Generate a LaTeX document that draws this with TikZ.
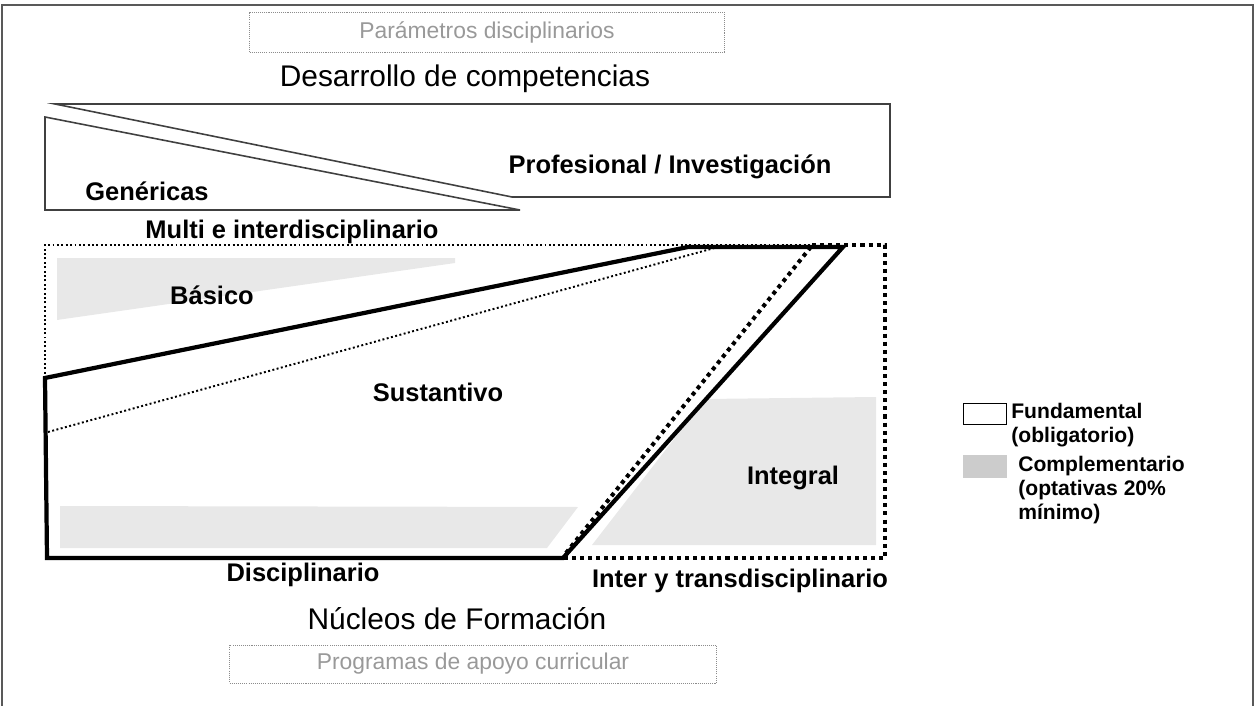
\documentclass[tikz,border=0pt]{standalone}
\usepackage{fontspec}
\setmainfont{Liberation Sans}
\usetikzlibrary{positioning}

\begin{document}
\begin{tikzpicture}[x=0.02cm, y=-0.02cm,
            every node/.style={inner sep=0pt},
            frame/.style={draw=black!65, line width=1.1pt},
            band/.style={draw=black!75, line width=0.9pt},
            fund/.style={draw=black, line width=2.4pt, line join=miter},
            finedots/.style={draw=black, line width=1.1pt, dash pattern=on 1.1pt off 1.4pt},
            heavydots/.style={draw=black, line width=2.3pt, dash pattern=on 2.3pt off 2.3pt},
            compl/.style={fill=black!9, draw=none},
            greybox/.style={draw=black!45, line width=0.5pt, dash pattern=on 0.6pt off 0.6pt,
                text=black!40, font=\fontsize{13}{15}\selectfont},
            title/.style={font=\fontsize{17}{20}\selectfont},
            lbl/.style={font=\bfseries\fontsize{14.5}{17}\selectfont},
            leg/.style={font=\bfseries\fontsize{12}{13.6}\selectfont, align=left, anchor=west}]
            \useasboundingbox (0,0) rectangle (1255,706);
            \draw[frame] (2,706) -- (2,5) -- (1253,5) -- (1253,706);
            % top: competencias
            \node[greybox, minimum width=9.5cm, minimum height=0.8cm] (param) at (487,32) {Parámetros disciplinarios};
            \node[title] (desarr) at (465,79) {Desarrollo de competencias};
            \draw[band] (55,104) -- (890,104) -- (890,197) -- (512,197) -- cycle;
            \draw[band] (45,117) -- (520,210) -- (45,210) -- cycle;
            \node[lbl] (prof) at (670,167) {Profesional / Investigación};
            \node[lbl] (gen) at (147,191) {Genéricas};
            \node[lbl] (multi) at (292,232) {Multi e interdisciplinario};
            % complementary areas
            \fill[compl] (57,258) -- (455,258) -- (455,263) -- (57,320) -- cycle;
            \fill[compl] (60,506) -- (578,507) -- (547,548) -- (60,548) -- cycle;
            \fill[compl] (705,399) -- (876,397) -- (876,545) -- (592,545) -- cycle;
            % nucleos
            \coordinate (c1) at (45,378);
            \coordinate (c2) at (688,247);
            \coordinate (c3) at (843,247);
            \coordinate (c4) at (563,558);
            \coordinate (c5) at (47,558);
            \draw[finedots] (c1) -- (45,245) -- (812,245);
            \draw[finedots] (48,432) -- (718,247);
            \draw[heavydots] (812,245) -- (885,245) -- (885,558) -- (c4);
            \draw[heavydots] (566,553) -- (810,248);
            \draw[fund] (c1) -- (c2) -- (c3) -- (c4) -- (c5) -- cycle;
            \node[lbl] (bas) at (212,295) {Básico};
            \node[lbl] (sust) at (438,392) {Sustantivo};
            \node[lbl] (integ) at (793,478) {Integral};
            \node[lbl] (disc) at (303,575) {Disciplinario};
            \node[lbl] (inter) at (740,581) {Inter y transdisciplinario};
            \node[title] (nucleo) at (457,619) {Núcleos de Formación};
            \node[greybox, minimum width=9.74cm, minimum height=0.76cm] (prog) at (473,664) {Programas de apoyo curricular};
            % legend
            \node[draw=black, line width=0.8pt, minimum width=0.86cm, minimum height=0.42cm] (box1) at (985,414) {};
            \node[leg] (txt1) at (1011,425) {Fundamental\\(obligatorio)};
            \node[fill=black!20, minimum width=0.88cm, minimum height=0.46cm] (box2) at (985,466) {};
            \node[leg] (txt2) at (1018,490) {Complementario\\(optativas 20\%\\mínimo)};
        \end{tikzpicture}
\end{document}
